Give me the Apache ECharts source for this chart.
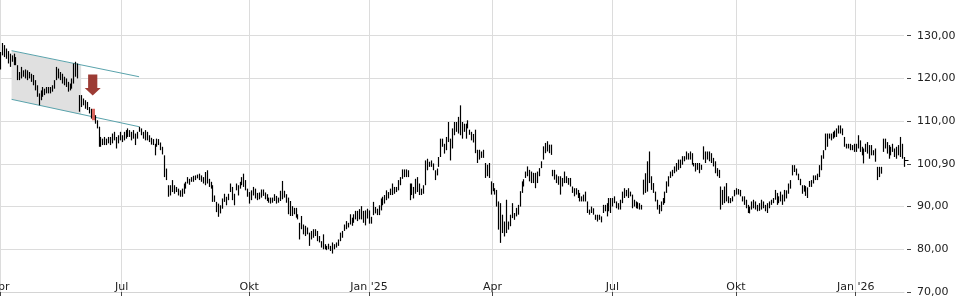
<!DOCTYPE html>
<html>
<head>
<meta charset="utf-8">
<script src="https://cdn.jsdelivr.net/npm/echarts@6/dist/echarts.min.js"></script>
<style>
html,body{margin:0;padding:0;background:#fff;}
#chart{width:960px;height:300px;}
</style>
</head>
<body>
<div id="chart"></div>
<script>
// ---- Quarter labels on the time axis and number of trading bars in each quarter
const quarterLabels = ["Apr", "Jul", "Okt", "Jan '25", "Apr", "Jul", "Okt", "Jan '26"];
const quarterBars   = [63, 66, 62, 64, 62, 64, 62, 26];

// ---- Daily highs
const highs = [
/*0*/   126.2,128.3,127.8,127.0,126.4,125.8,125.4,125.8,125.0,123.1,
/*10*/  121.5,122.7,121.9,122.1,121.9,121.5,121.1,120.8,119.6,118.4,
/*20*/  116.5,117.2,118.0,117.6,118.0,118.0,118.0,118.4,119.6,122.7,
/*30*/  122.3,121.5,121.1,120.4,120.0,119.2,118.8,120.0,123.5,123.9,
/*40*/  123.5,116.1,116.1,115.3,114.9,114.5,113.3,112.9,112.9,111.4,
/*50*/  110.2,108.7,106.3,105.9,106.3,105.9,106.3,106.3,107.1,107.5,
/*60*/  106.3,106.7,107.5,106.7,107.5,107.9,108.3,107.9,107.5,107.9,
/*70*/  107.1,107.5,108.7,108.3,107.5,107.9,107.5,106.7,
/*78*/  106.1,105.8,104.7,105.9,105.8,105.0,104.0,102.0,98.9,95.0,
/*88*/  95.0,96.2,95.0,94.6,94.2,93.8,94.2,95.4,95.8,96.9,
/*98*/  96.5,96.9,97.2,97.3,97.5,97.7,97.3,96.9,98.1,98.5,
/*108*/ 96.5,95.8,95.0,92.6,91.1,90.7,90.3,91.9,93.0,92.3,
/*118*/ 93.0,95.4,94.6,93.0,95.4,95.0,95.8,96.9,97.7,96.2,
/*128*/ 94.2,93.4,93.8,94.6,94.2,93.2,
/*134*/ 93.3,94.0,94.0,93.3,92.9,92.1,92.1,92.1,92.9,92.5,
/*144*/ 92.1,93.7,96.0,93.7,92.9,92.1,91.3,90.1,89.7,89.7,
/*154*/ 88.2,86.2,87.8,85.8,85.5,85.1,83.9,84.3,84.7,84.7,
/*164*/ 84.3,83.1,81.9,83.5,81.2,80.8,81.3,80.8,81.6,81.2,
/*174*/ 81.6,82.3,83.9,84.3,85.8,86.6,86.2,88.2,87.4,88.2,
/*184*/ 89.0,89.0,89.4,90.1,89.0,
/*189*/ 89.1,89.5,89.1,87.6,91.1,89.9,89.5,90.3,91.9,92.3,
/*199*/ 92.7,93.8,93.4,94.2,95.4,94.6,94.6,96.2,96.9,98.7,
/*209*/ 98.7,98.7,98.5,95.4,95.4,94.6,96.5,96.9,95.4,94.2,
/*219*/ 95.0,100.8,101.2,100.5,100.8,100.1,98.5,98.9,101.6,105.9,
/*229*/ 105.9,104.7,106.3,109.8,105.9,108.3,109.8,109.8,111.0,113.7,
/*239*/ 109.8,109.4,109.4,110.2,
/*243*/ 108.0,107.5,107.0,
/*246*/ 108.0,103.3,103.3,102.9,103.3,100.2,99.8,100.2,95.9,95.5,
/*256*/ 94.3,93.9,91.2,90.8,88.1,86.5,91.6,86.5,88.1,90.8,
/*266*/ 88.5,89.7,90.4,93.6,95.9,96.4,98.2,99.4,98.6,98.2,
/*276*/ 97.9,97.9,98.2,99.0,100.6,104.1,104.9,105.3,104.5,104.5,
/*286*/ 98.6,98.6,97.5,97.1,97.1,96.7,98.2,97.1,96.7,96.7,94.7,94.3,
/*298*/ 94.3,93.9,93.2,92.4,92.8,93.5,91.2,89.3,90.0,89.6,
/*308*/ 88.1,88.1,88.1,87.7,90.4,90.4,90.8,92.0,92.0,92.0,
/*318*/ 92.4,91.2,90.8,91.6,93.5,94.3,93.9,94.3,93.5,92.8,
/*328*/ 91.6,91.2,91.0,90.8,90.4,96.3,97.8,100.6,102.9,97.1,
/*338*/ 95.5,93.5,91.6,90.4,91.2,92.0,93.5,95.9,97.1,98.2,
/*348*/ 98.6,99.4,100.2,101.0,
/*352*/ 101.0,101.8,101.8,102.9,102.5,102.9,102.5,100.2,100.2,100.2,
/*362*/ 100.2,99.8,104.1,102.9,102.9,102.9,102.5,101.4,100.6,99.0,
/*372*/ 98.6,94.7,93.9,94.7,95.5,92.4,92.0,92.4,93.9,94.3,
/*382*/ 94.1,93.9,92.4,92.4,91.6,90.4,90.0,91.2,91.6,91.2,
/*392*/ 90.4,90.8,91.6,91.2,90.4,90.8,91.2,91.6,92.0,93.9,
/*402*/ 93.2,92.4,93.5,92.8,93.9,
/*407*/ 93.8,95.4,96.2,99.7,99.7,98.9,97.7,96.5,95.0,95.0,
/*417*/ 94.8,94.5,96.0,96.2,97.3,97.3,97.7,99.7,102.0,103.2,
/*427*/ 107.1,107.1,107.1,107.1,107.5,107.8,108.3,109.0,109.0,108.3,
/*437*/ 106.3,104.7,104.7,104.7,104.4,104.7,104.7,106.7,105.5,104.0,
/*447*/ 103.6,104.7,105.1,104.4,104.4,103.2,103.6,99.3,99.3,99.3,
/*457*/ 105.9,105.9,105.1,104.4,104.0,104.7,103.6,104.0,104.4,106.3,
/*467*/ 104.7,101.6
];

// ---- Daily lows
const lows = [
/*0*/   122.1,125.4,125.0,124.6,123.5,122.7,123.9,123.1,123.1,119.6,
/*10*/  119.6,120.0,120.4,120.0,119.6,120.0,119.2,118.4,117.2,115.7,
/*20*/  113.7,114.9,115.7,116.1,116.5,116.5,116.5,116.9,117.6,119.6,
/*30*/  120.0,119.6,118.8,118.4,118.0,116.9,117.2,117.6,118.8,120.4,
/*40*/  120.0,112.2,113.3,113.7,112.9,112.6,111.8,110.6,110.2,109.4,
/*50*/  108.3,104.0,104.0,104.4,104.4,104.4,104.8,104.4,104.8,105.5,
/*60*/  103.6,104.8,105.5,105.1,105.5,105.9,106.3,106.3,105.5,105.9,
/*70*/  104.4,105.9,107.5,106.7,105.9,105.5,105.5,105.1,
/*78*/  104.5,104.4,102.0,104.0,104.4,103.2,102.2,96.9,96.2,92.3,
/*88*/  92.6,93.4,93.0,93.4,92.6,92.3,92.3,93.0,94.2,95.4,
/*98*/  95.1,95.8,95.8,96.2,96.6,96.2,95.8,95.4,95.0,95.4,
/*108*/ 94.6,94.2,91.1,91.1,88.7,87.6,88.4,89.5,91.1,90.3,
/*118*/ 91.5,93.4,91.5,90.3,93.8,92.6,94.2,95.0,94.6,93.8,
/*128*/ 92.3,90.7,91.5,92.6,91.9,91.5,
/*134*/ 91.7,92.1,92.5,91.7,91.3,90.9,90.7,90.9,91.3,90.7,
/*144*/ 90.9,91.3,91.7,92.1,90.9,88.2,87.8,87.8,88.2,87.4,
/*154*/ 87.0,82.3,84.7,83.5,83.1,83.5,80.8,82.3,82.7,83.1,
/*164*/ 81.9,81.6,80.4,80.0,80.0,79.8,80.0,79.6,79.0,80.0,
/*174*/ 80.4,80.8,81.9,82.7,84.3,84.7,85.1,85.8,85.5,86.2,
/*184*/ 87.0,86.6,87.0,87.0,86.2,
/*189*/ 85.6,87.2,86.0,86.0,88.0,88.4,88.0,88.0,89.1,90.3,
/*199*/ 90.7,91.5,91.9,92.7,92.7,93.0,93.4,93.8,95.0,96.5,
/*209*/ 96.9,96.9,96.9,91.5,92.7,91.9,93.0,93.4,92.7,92.7,
/*219*/ 93.0,95.0,98.5,99.3,99.3,98.5,96.2,97.3,99.3,101.6,
/*229*/ 104.0,102.4,103.2,105.1,100.8,103.6,106.7,107.5,107.1,106.7,
/*239*/ 105.9,107.5,105.9,108.3,
/*243*/ 106.8,105.5,105.0,
/*246*/ 102.5,100.2,101.0,101.4,101.4,96.7,97.1,96.7,92.8,93.6,
/*256*/ 92.8,90.0,84.6,81.5,83.8,83.0,83.8,84.6,85.4,87.3,
/*266*/ 86.9,87.7,88.1,90.0,93.2,94.7,96.7,97.1,95.9,95.5,
/*276*/ 95.5,94.3,95.5,97.1,99.0,101.0,102.5,102.9,102.5,102.1,
/*286*/ 97.1,96.3,95.5,95.1,92.8,94.7,95.5,95.5,95.1,94.7,93.2,92.4,
/*298*/ 92.8,92.0,91.2,91.2,91.2,91.2,88.5,88.1,88.5,88.1,
/*308*/ 86.9,86.5,86.9,86.3,88.5,88.9,87.7,88.9,88.5,90.0,
/*318*/ 90.8,89.6,89.3,89.3,90.8,92.0,92.4,92.0,92.4,89.6,
/*328*/ 90.0,89.6,89.5,89.3,89.3,92.8,93.2,93.5,95.5,93.9,
/*338*/ 93.2,91.2,89.3,88.3,88.9,90.4,90.8,93.2,94.7,96.7,
/*348*/ 97.1,97.8,98.2,98.6,
/*352*/ 99.0,99.8,100.6,101.0,101.0,101.0,99.8,99.4,98.2,98.6,
/*362*/ 97.8,98.6,101.0,100.2,101.0,100.6,100.2,99.4,97.8,97.1,
/*372*/ 96.7,89.3,90.4,90.8,91.2,90.8,90.8,91.2,92.4,92.8,
/*382*/ 92.8,92.4,91.2,90.4,89.6,88.5,88.4,89.3,89.6,89.3,
/*392*/ 88.9,89.0,89.3,89.6,88.9,88.5,89.6,90.4,90.8,91.6,
/*402*/ 90.4,90.8,91.2,90.4,91.2,
/*407*/ 91.9,93.0,94.2,97.3,98.1,97.3,96.2,95.0,93.0,93.5,
/*417*/ 92.5,92.0,94.6,94.6,95.4,96.2,96.2,96.9,98.5,101.2,
/*427*/ 103.2,104.0,105.9,105.5,105.9,106.2,106.3,107.1,107.1,106.7,
/*437*/ 104.0,103.6,103.6,103.2,103.2,102.8,102.8,103.6,102.8,102.0,
/*447*/ 100.1,102.8,102.4,101.2,102.0,102.0,100.5,96.2,96.9,97.7,
/*457*/ 102.8,103.6,102.4,101.2,102.0,102.8,101.6,101.2,102.0,101.6,
/*467*/ 101.2,99.3
];

// ---- Last price and value-axis ticks
const lastPrice = 100.90;
const yTickValues = [70, 80, 90, 100, 110, 120, 130];

// ---- Down-trend channel drawn on the chart (bar index, price)
const channelX      = [5.7, 71.6];
const channelTop    = [126.5, 120.4];
const channelBottom = [115.1, 108.7];
const channelShadeEndX = 42.3;

// ---- Breakout signal
const breakoutIndex = 48;
const arrowTip = [48.3, 116.0];

// ================== build ==================
const categories = [];
const quarterStartLabel = {};
quarterBars.forEach((n, q) => {
  quarterStartLabel[categories.length] = quarterLabels[q];
  for (let j = 0; j < n; j++) categories.push(String(categories.length));
});
const isQuarterStart = (i) => Object.prototype.hasOwnProperty.call(quarterStartLabel, i);

const barData = highs.map((h, i) => [i, h, lows[i]]);
const lastIndex = highs.length - 1;

function lerp(a, b, t) { return a + (b - a) * t; }
function channelAt(arr, x) { return lerp(arr[0], arr[1], (x - channelX[0]) / (channelX[1] - channelX[0])); }

const FONT = 'DejaVu Sans';
const GRID_COLOR = '#dcdcdc';

const chart = echarts.init(document.getElementById('chart'), null, { renderer: 'canvas' });
chart.setOption({
  animation: false,
  backgroundColor: '#fff',
  grid: { left: 0, right: 56, top: -7, bottom: 8, containLabel: false, outerBoundsMode: 'none' },
  xAxis: {
    type: 'category',
    data: categories,
    boundaryGap: false,
    axisLine: { show: true, lineStyle: { color: '#d4d4d4', width: 1 } },
    axisTick: { show: true, interval: isQuarterStart, length: 4, inside: false, lineStyle: { color: '#444' } },
    axisLabel: {
      show: true, interval: isQuarterStart, inside: true, margin: -1,
      color: '#222', fontFamily: FONT, fontSize: 11,
      formatter: (v, i) => quarterStartLabel[i] || ''
    },
    splitLine: { show: true, interval: isQuarterStart, lineStyle: { color: GRID_COLOR, width: 1 } }
  },
  yAxis: {
    type: 'value',
    position: 'right',
    min: 70, max: 140, interval: 10,
    offset: 3,
    axisLine: { show: false },
    axisTick: { show: true, length: 4, lineStyle: { color: '#444' }, customValues: yTickValues },
    axisLabel: {
      margin: 10, color: '#222', fontFamily: FONT, fontSize: 11,
      customValues: yTickValues,
      formatter: (v) => (v === 100 ? lastPrice : v).toFixed(2).replace('.', ',')
    },
    splitLine: { show: true, lineStyle: { color: GRID_COLOR, width: 1 } }
  },
  series: [
    { // shaded channel part
      type: 'custom', z: 1, silent: true,
      data: [[channelX[0], channelTop[0]]],
      renderItem: (params, api) => {
        const pts = [
          api.coord([channelX[0], channelTop[0]]),
          api.coord([channelShadeEndX, channelAt(channelTop, channelShadeEndX)]),
          api.coord([channelShadeEndX, channelAt(channelBottom, channelShadeEndX)]),
          api.coord([channelX[0], channelBottom[0]])
        ];
        return { type: 'polygon', shape: { points: pts }, style: { fill: '#e0e0e0' } };
      }
    },
    { // channel lines
      type: 'custom', z: 3, silent: true,
      data: [[channelX[0], channelTop[0]]],
      renderItem: (params, api) => {
        const t0 = api.coord([channelX[0], channelTop[0]]), t1 = api.coord([channelX[1], channelTop[1]]);
        const b0 = api.coord([channelX[0], channelBottom[0]]), b1 = api.coord([channelX[1], channelBottom[1]]);
        const st = { stroke: '#5aa3ac', lineWidth: 1 };
        return { type: 'group', children: [
          { type: 'line', shape: { x1: t0[0], y1: t0[1], x2: t1[0], y2: t1[1] }, style: st },
          { type: 'line', shape: { x1: b0[0], y1: b0[1], x2: b1[0], y2: b1[1] }, style: st }
        ]};
      }
    },
    { // high-low bars
      type: 'custom', z: 4, silent: true,
      data: barData,
      encode: { x: 0, y: [1, 2] },
      renderItem: (params, api) => {
        const i = api.value(0);
        const top = api.coord([i, api.value(1)]);
        const bot = api.coord([i, api.value(2)]);
        const x = Math.round(top[0]) + 0.5;
        const children = [];
        if (i === breakoutIndex) {
          children.push({ type: 'rect', shape: { x: x - 1.5, y: top[1], width: 3, height: bot[1] - top[1] }, style: { fill: '#d9675f' } });
        } else {
          children.push({ type: 'line', shape: { x1: x, y1: top[1], x2: x, y2: bot[1] }, style: { stroke: '#000', lineWidth: 1.2 } });
        }
        if (i === lastIndex) {
          const c = api.coord([i, lastPrice]);
          children.push({ type: 'line', shape: { x1: x, y1: Math.round(c[1]) + 0.5, x2: x + 4, y2: Math.round(c[1]) + 0.5 }, style: { stroke: '#000', lineWidth: 1 } });
        }
        return { type: 'group', children };
      }
    },
    { // breakout arrow
      type: 'custom', z: 5, silent: true,
      data: [arrowTip],
      renderItem: (params, api) => {
        const p = api.coord([api.value(0), api.value(1)]);
        const cx = p[0], cy = p[1];
        const pts = [
          [cx - 4.6, cy - 21], [cx + 4.6, cy - 21], [cx + 4.6, cy - 7.5],
          [cx + 8, cy - 7.5], [cx, cy], [cx - 8, cy - 7.5], [cx - 4.6, cy - 7.5]
        ];
        return { type: 'polygon', shape: { points: pts }, style: { fill: '#9c3b34' } };
      }
    }
  ]
});
</script>
</body>
</html>
